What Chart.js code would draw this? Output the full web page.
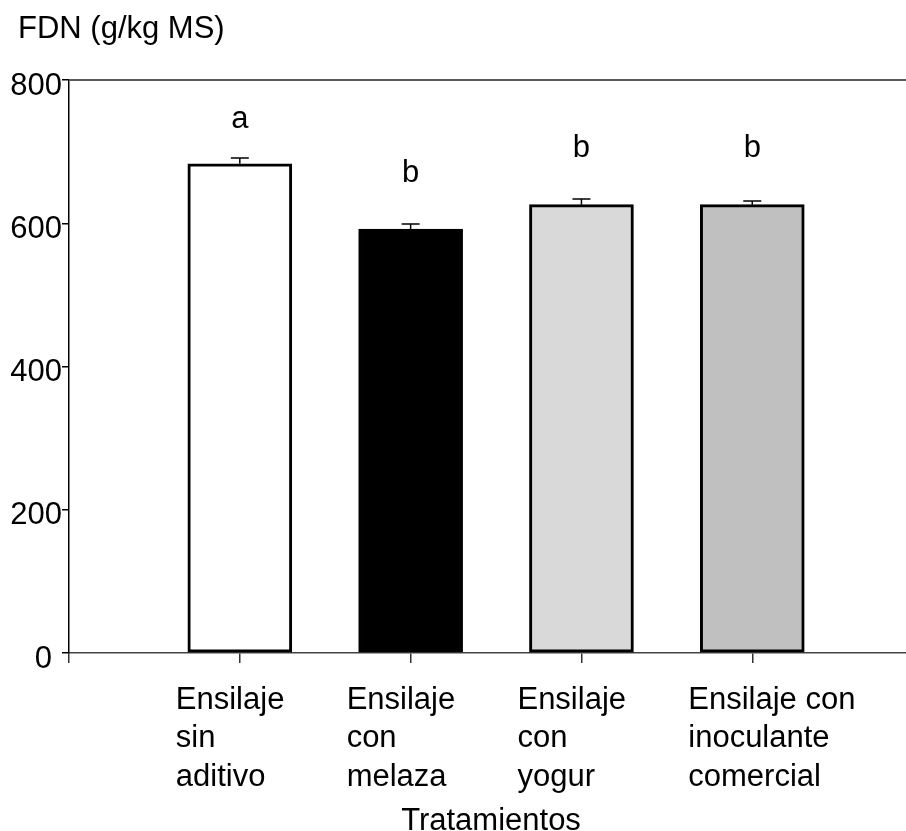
<!DOCTYPE html>
<html>
<head>
<meta charset="utf-8">
<script src="https://cdn.jsdelivr.net/npm/chart.js@4.4.1/dist/chart.umd.min.js"></script>
<style>
  html, body { margin: 0; padding: 0; background: #fff; }
  canvas { display: block; }
</style>
</head>
<body>
<canvas id="fdn-chart" width="906" height="831"></canvas>
<script>
// data
const categories = [
    ['Ensilaje', 'sin', 'aditivo'],
    ['Ensilaje', 'con', 'melaza'],
    ['Ensilaje', 'con', 'yogur'],
    ['Ensilaje con', 'inoculante', 'comercial']
];
const positions = [1, 2, 3, 4];
const fdnValues = [683, 592, 626, 626];
const fdnErrors = [8, 7, 8, 5];
const barColors = ['#ffffff', '#000000', '#d9d9d9', '#c0c0c0'];
const sigLetters = ['a', 'b', 'b', 'b'];
const letterY = [745, 670, 705, 705];
const yTicks = [0, 200, 400, 600, 800];
const xTicks = [0, 1, 2, 3, 4];

const FONT = '"Liberation Sans", Arial, sans-serif';
const FS = 31;

// error bars, letters, texts
const extras = {
    id: 'extras',
    afterDraw(chart) {
        const c = chart.ctx;
        const area = chart.chartArea;
        const xs = chart.scales.x;
        const ys = chart.scales.y;
        c.save();

        // top frame line
        c.strokeStyle = '#5a5a5a';
        c.lineWidth = 2;
        c.beginPath();
        c.moveTo(area.left, area.top);
        c.lineTo(area.right, area.top);
        c.stroke();

        // error bars
        c.strokeStyle = '#000';
        c.lineWidth = 1.5;
        fdnValues.forEach(function (v, i) {
            const px = xs.getPixelForValue(positions[i]);
            const y0 = ys.getPixelForValue(v);
            const y1 = ys.getPixelForValue(v + fdnErrors[i]);
            c.beginPath();
            c.moveTo(px, y0);
            c.lineTo(px, y1);
            c.moveTo(px - 9, y1);
            c.lineTo(px + 9, y1);
            c.stroke();
        });

        c.fillStyle = '#000';
        c.font = FS + 'px ' + FONT;

        // significance letters
        c.textAlign = 'center';
        c.textBaseline = 'middle';
        sigLetters.forEach(function (l, i) {
            c.fillText(l, xs.getPixelForValue(positions[i]), ys.getPixelForValue(letterY[i]));
        });

        // y tick labels (the zero sits a bit further left)
        c.textAlign = 'right';
        yTicks.forEach(function (t) {
            const gap = t === 0 ? 17 : 7;
            c.fillText(String(t), area.left - gap, ys.getPixelForValue(t) + 6);
        });

        // x category labels (left aligned blocks)
        c.textAlign = 'left';
        categories.forEach(function (lines, i) {
            const left = xs.getPixelForValue(positions[i]) - 64;
            lines.forEach(function (s, k) {
                c.fillText(s, left, area.bottom + 47 + k * 38.5);
            });
        });

        // axis titles
        c.textBaseline = 'alphabetic';
        c.textAlign = 'left';
        c.fillText('FDN (g/kg MS)', 18, 38);
        c.textAlign = 'center';
        c.fillText('Tratamientos', 491, 830);
        c.restore();
    }
};

const ctx = document.getElementById('fdn-chart').getContext('2d');
var chart = new Chart(ctx, {
    type: 'bar',
    data: {
        datasets: [
            {
                label: 'FDN',
                data: positions.map(function (p, i) { return { x: p, y: fdnValues[i] }; }),
                backgroundColor: barColors,
                borderColor: '#000',
                borderWidth: 3,
                borderSkipped: false,
                barThickness: 104,
            },
        ],
    },
    plugins: [extras],
    options: {
        responsive: false,
        animation: false,
        layout: {
            padding: { top: 80, left: 0, right: 0, bottom: 0 }
        },
        plugins: {
            legend: { display: false },
            tooltip: { enabled: false },
        },
        scales: {
            x: {
                type: 'linear',
                min: 0,
                max: 4.9,
                offset: false,
                afterBuildTicks: function (scale) {
                    scale.ticks = xTicks.map(function (v) { return { value: v }; });
                },
                afterFit: function (scale) { scale.height = 178; },
                ticks: { display: false },
                grid: {
                    offset: false,
                    drawOnChartArea: false,
                    drawTicks: true,
                    tickLength: 10,
                    color: '#333',
                    lineWidth: 1.5,
                },
                border: { color: '#444', width: 1.5 },
            },
            y: {
                min: 0,
                max: 800,
                afterBuildTicks: function (scale) {
                    scale.ticks = yTicks.map(function (v) { return { value: v }; });
                },
                afterFit: function (scale) { scale.width = 69; },
                ticks: { display: false },
                grid: {
                    drawOnChartArea: false,
                    drawTicks: true,
                    tickLength: 7,
                    color: '#000',
                    lineWidth: 1.5,
                },
                border: { color: '#000', width: 1.5 },
            },
        },
    },
});
</script>
</body>
</html>
